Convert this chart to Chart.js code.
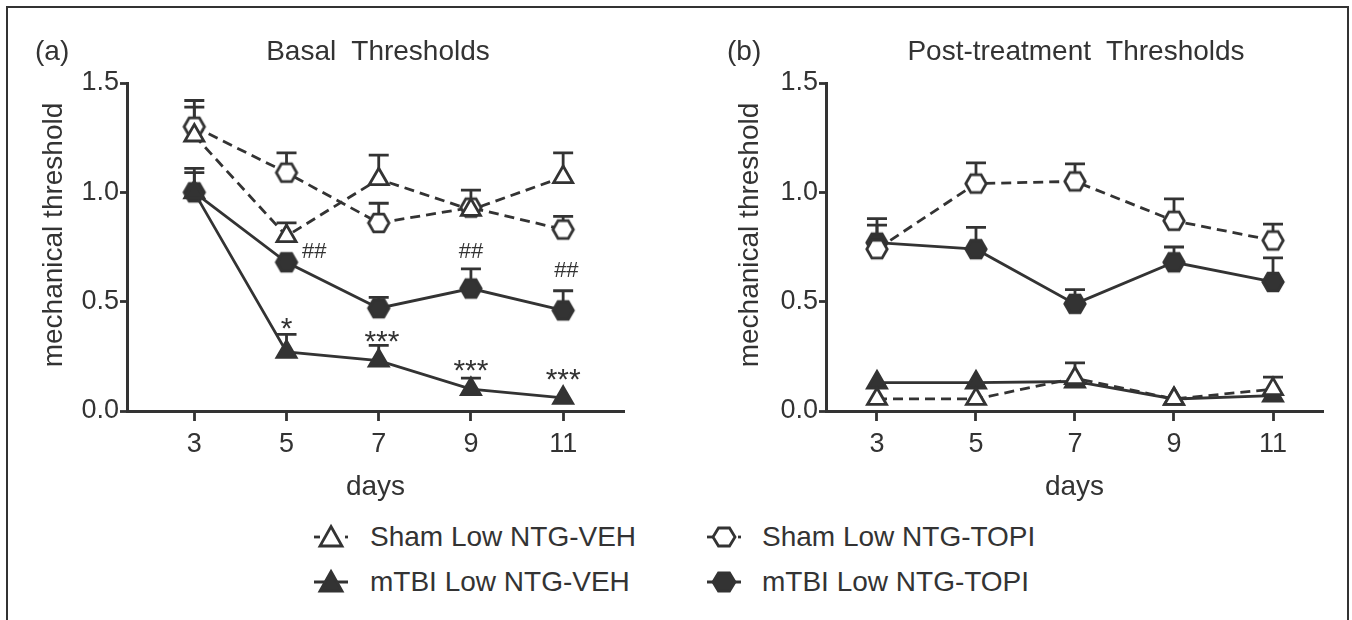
<!DOCTYPE html>
<html>
<head>
<meta charset="utf-8">
<script src="https://cdn.jsdelivr.net/npm/chart.js@4.4.1/dist/chart.umd.min.js"></script>
<style>
  body { margin: 0; background: #fff; font-family: 'Liberation Sans', Arial, sans-serif; color: #333; }
  #wrap { position: relative; width: 1352px; height: 620px; overflow: hidden; background: #fff; }
  #frame { position: absolute; left: 6px; top: 6px; width: 1339px; height: 660px; border: 2px solid #333; border-bottom: none; }
  canvas { position: absolute; top: 0; }
  .txt { position: absolute; font-size: 28px; line-height: 28px; white-space: pre; }
  .ttl { width: 600px; text-align: center; }
  .leg { position: absolute; height: 30px; width: 340px; }
  .leg svg { position: absolute; left: 0; top: 0; }
  .leg span { position: absolute; font-size: 28px; line-height: 30px; white-space: pre; }
</style>
</head>
<body>
<div id="wrap">
  <div id="frame"></div>
  <canvas id="chartA" width="680" height="510" style="left:0"></canvas>
  <canvas id="chartB" width="672" height="510" style="left:680px"></canvas>
  <div class="txt" style="left:35px; top:37px">(a)</div>
  <div class="txt ttl" style="left:78px; top:37px">Basal  Thresholds</div>
  <div class="txt" style="left:727px; top:37px">(b)</div>
  <div class="txt ttl" style="left:776px; top:37px">Post-treatment  Thresholds</div>
  <div id="legend"></div>
</div>
<script>
// days on the x axis
const days = [3, 5, 7, 9, 11];
const yTicks = [0, 0.5, 1.0, 1.5];

// (a) basal thresholds: means and upper SEM
const shamVehA = [1.26, 0.80, 1.06, 0.92, 1.07];
const shamVehAErr = [0.13, 0.06, 0.11, 0, 0.11];
const shamTopiA = [1.30, 1.09, 0.86, 0.93, 0.83];
const shamTopiAErr = [0.12, 0.09, 0.09, 0.08, 0.06];
const mtbiVehA = [1.00, 0.27, 0.23, 0.10, 0.06];
const mtbiVehAErr = [0.09, 0.08, 0.07, 0.05, 0];
const mtbiTopiA = [1.00, 0.68, 0.47, 0.56, 0.46];
const mtbiTopiAErr = [0.11, 0, 0.05, 0.09, 0.09];

// (b) post-treatment thresholds
const shamVehB = [0.055, 0.055, 0.15, 0.055, 0.10];
const shamVehBErr = [0, 0, 0.07, 0, 0.055];
const shamTopiB = [0.74, 1.04, 1.05, 0.87, 0.78];
const shamTopiBErr = [0.11, 0.095, 0.08, 0.10, 0.075];
const mtbiVehB = [0.13, 0.13, 0.135, 0.055, 0.07];
const mtbiVehBErr = [0, 0, 0, 0, 0];
const mtbiTopiB = [0.77, 0.74, 0.49, 0.68, 0.59];
const mtbiTopiBErr = [0.11, 0.10, 0.065, 0.07, 0.11];

// significance marks on panel (a)
const marksA = [
  { x: 5.6, y: 0.736, text: '##' },
  { x: 9.0, y: 0.736, text: '##' },
  { x: 11.07, y: 0.65, text: '##' },
  { x: 5.0, y: 0.413, text: '*' },
  { x: 7.07, y: 0.352, text: '***' },
  { x: 9.0, y: 0.22, text: '***' },
  { x: 11.0, y: 0.178, text: '***' }
];

const seriesNames = ['Sham Low NTG-VEH', 'Sham Low NTG-TOPI', 'mTBI Low NTG-VEH', 'mTBI Low NTG-TOPI'];

const ink = '#333333';
const textInk = '#333333';
const fontFamily = "'Liberation Sans', Arial, sans-serif";
Chart.defaults.font.family = fontFamily;
Chart.defaults.color = textInk;

// hexagon marker (flat top and bottom)
function hexagon(filled) {
  const c = document.createElement('canvas');
  c.width = 28; c.height = 28;
  const g = c.getContext('2d');
  const R = 10.2;
  g.beginPath();
  for (let k = 0; k < 6; k++) {
    const a = k * Math.PI / 3;
    const px = 14 + R * Math.cos(a), py = 14 + R * Math.sin(a);
    k ? g.lineTo(px, py) : g.moveTo(px, py);
  }
  g.closePath();
  g.fillStyle = filled ? ink : '#fff';
  g.fill();
  g.lineWidth = 2.8;
  g.strokeStyle = ink;
  g.stroke();
  return c;
}
const hexOpen = hexagon(false);
const hexFilled = hexagon(true);

function series(name, vals, errs, dashed, style, fill) {
  return {
    label: name,
    data: days.map((d, i) => ({ x: d, y: vals[i] })),
    errors: errs,
    borderColor: ink,
    borderWidth: 2.8,
    borderDash: dashed ? [10, 6] : [],
    pointStyle: style,
    pointRadius: 11,
    pointBorderWidth: 2.8,
    pointBackgroundColor: fill,
    pointBorderColor: ink,
    tension: 0,
    clip: false
  };
}

const errorBars = {
  id: 'errorBars',
  beforeDatasetsDraw(chart) {
    const ctx = chart.ctx, ys = chart.scales.y;
    ctx.save();
    ctx.strokeStyle = ink;
    ctx.lineWidth = 2.8;
    chart.data.datasets.forEach((ds, i) => {
      chart.getDatasetMeta(i).data.forEach((pt, j) => {
        const e = ds.errors[j];
        if (!e) return;
        const top = ys.getPixelForValue(ds.data[j].y + e);
        ctx.beginPath();
        ctx.moveTo(pt.x, pt.y);
        ctx.lineTo(pt.x, top);
        ctx.moveTo(pt.x - 10, top);
        ctx.lineTo(pt.x + 10, top);
        ctx.stroke();
      });
    });
    ctx.restore();
  }
};

const sigMarks = {
  id: 'sigMarks',
  afterDatasetsDraw(chart, args, opts) {
    if (!opts.items) return;
    const ctx = chart.ctx;
    ctx.save();
    ctx.fillStyle = textInk;
    ctx.textAlign = 'center';
    ctx.textBaseline = 'alphabetic';
    opts.items.forEach(m => {
      const star = m.text[0] === '*';
      const size = star ? 30 : 22;
      ctx.font = size + 'px ' + fontFamily;
      const px = chart.scales.x.getPixelForValue(m.x);
      const py = chart.scales.y.getPixelForValue(m.y);
      // place the glyph centre at the anchor
      ctx.fillText(m.text, px, py + (star ? 0.57 : 0.35) * size);
    });
    ctx.restore();
  }
};

// y axis title, placed a little above the middle of the axis as in the figure
const yTitle = {
  id: 'yTitle',
  afterDraw(chart, args, opts) {
    const ctx = chart.ctx;
    ctx.save();
    ctx.translate(opts.x, opts.y);
    ctx.rotate(-Math.PI / 2);
    ctx.fillStyle = textInk;
    ctx.font = '28px ' + fontFamily;
    ctx.textAlign = 'center';
    ctx.textBaseline = 'middle';
    ctx.fillText(opts.text, 0, 0);
    ctx.restore();
  }
};

function makePanel(id, cfg) {
  new Chart(document.getElementById(id), {
    type: 'line',
    data: {
      datasets: [
        series(seriesNames[0], cfg.shamVeh, cfg.shamVehErr, true, 'triangle', '#fff'),
        series(seriesNames[1], cfg.shamTopi, cfg.shamTopiErr, true, hexOpen, '#fff'),
        series(seriesNames[2], cfg.mtbiVeh, cfg.mtbiVehErr, false, 'triangle', ink),
        series(seriesNames[3], cfg.mtbiTopi, cfg.mtbiTopiErr, false, hexFilled, ink)
      ]
    },
    options: {
      responsive: false,
      animation: false,
      layout: { padding: { left: 0, right: cfg.padRight, top: 83, bottom: 6 } },
      plugins: {
        legend: { display: false },
        tooltip: { enabled: false },
        sigMarks: { items: cfg.marks },
        yTitle: { text: 'mechanical threshold', x: cfg.yTitleX, y: 235 }
      },
      scales: {
        x: {
          type: 'linear',
          min: cfg.xMin,
          max: cfg.xMax,
          afterBuildTicks: s => { s.ticks = days.map(v => ({ value: v })); },
          afterFit: s => { s.height = 93; },
          ticks: { color: textInk, font: { size: 27 }, padding: 7, maxRotation: 0 },
          grid: { drawOnChartArea: false, drawTicks: true, tickLength: 10, tickWidth: 2.8, color: ink },
          border: { color: ink, width: 3 },
          title: { display: true, text: 'days', color: textInk, font: { size: 28 }, padding: { top: 0, bottom: 0 } }
        },
        y: {
          min: 0,
          max: 1.5,
          afterBuildTicks: s => { s.ticks = yTicks.map(v => ({ value: v })); },
          afterFit: s => { s.width = cfg.yWidth; },
          ticks: { color: textInk, font: { size: 27 }, padding: 1, callback: v => v.toFixed(1) },
          grid: { drawOnChartArea: false, drawTicks: true, tickLength: 7, tickWidth: 2.8, color: ink },
          border: { color: ink, width: 3 }
        }
      }
    },
    plugins: [errorBars, sigMarks, yTitle]
  });
}

makePanel('chartA', {
  shamVeh: shamVehA, shamVehErr: shamVehAErr,
  shamTopi: shamTopiA, shamTopiErr: shamTopiAErr,
  mtbiVeh: mtbiVehA, mtbiVehErr: mtbiVehAErr,
  mtbiTopi: mtbiTopiA, mtbiTopiErr: mtbiTopiAErr,
  marks: marksA,
  xMin: 1.54, xMax: 12.32, yWidth: 127, padRight: 56, yTitleX: 54
});

makePanel('chartB', {
  shamVeh: shamVehB, shamVehErr: shamVehBErr,
  shamTopi: shamTopiB, shamTopiErr: shamTopiBErr,
  mtbiVeh: mtbiVehB, mtbiVehErr: mtbiVehBErr,
  mtbiTopi: mtbiTopiB, mtbiTopiErr: mtbiTopiBErr,
  marks: [],
  xMin: 1.97, xMax: 12.01, yWidth: 146, padRight: 29, yTitleX: 70
});

// legend below the panels
const legendItems = [
  { name: seriesNames[0], shape: 'tri', filled: false, dashed: true, x: 331, y: 537 },
  { name: seriesNames[1], shape: 'hex', filled: false, dashed: true, x: 724, y: 537 },
  { name: seriesNames[2], shape: 'tri', filled: true, dashed: false, x: 331, y: 582 },
  { name: seriesNames[3], shape: 'hex', filled: true, dashed: false, x: 724, y: 582 }
];
const legend = document.getElementById('legend');
legendItems.forEach(it => {
  const fill = it.filled ? ink : '#fff';
  const line = it.dashed
    ? '<line x1="3" y1="15" x2="9" y2="15"/><line x1="34" y1="15" x2="37" y2="15"/>'
    : '<line x1="3" y1="15" x2="37" y2="15"/>';
  const mark = it.shape === 'tri'
    ? '<polygon points="20,4.5 31,24 9,24" fill="' + fill + '"/>'
    : '<polygon points="31,15 25.5,24 14.5,24 9,15 14.5,6 25.5,6" fill="' + fill + '"/>';
  const div = document.createElement('div');
  div.className = 'leg';
  div.style.left = (it.x - 20) + 'px';
  div.style.top = (it.y - 15) + 'px';
  div.innerHTML = '<svg width="40" height="30" viewBox="0 0 40 30" stroke="' + ink + '" stroke-width="2.8">' + line + mark + '</svg>' +
    '<span style="left:' + (it.x < 500 ? 59 : 58) + 'px; top:0">' + it.name + '</span>';
  legend.appendChild(div);
});
</script>
</body>
</html>
